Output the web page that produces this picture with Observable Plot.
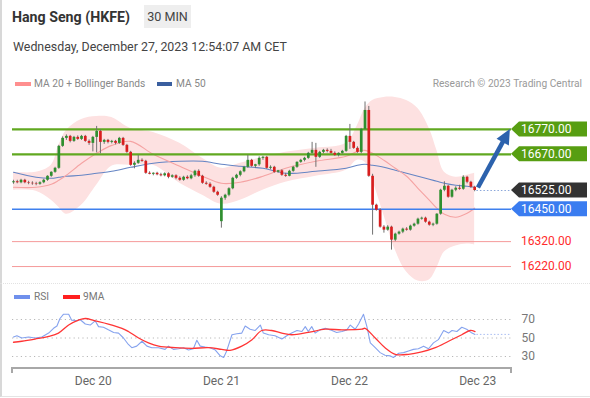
<!DOCTYPE html>
<html><head><meta charset="utf-8">
<script src="https://cdn.jsdelivr.net/npm/d3@7"></script>
<script src="https://cdn.jsdelivr.net/npm/@observablehq/plot@0.6"></script>
<style>
body{margin:0;background:#fff;font-family:Roboto,"Liberation Sans",Arial,sans-serif;}
#wrap{position:relative;width:590px;height:398px;overflow:hidden;background:#fff;}
#border{position:absolute;left:0;top:0;width:588px;height:396px;border-left:2px solid #d8d8d8;border-bottom:1px solid #e4e4e4;}
#title{position:absolute;left:12px;top:9px;font-size:14.2px;font-weight:700;color:#333;line-height:16px;}
#tf{position:absolute;left:144px;top:5px;width:47px;height:23px;line-height:23px;background:#eeeeee;color:#444;font-size:12.6px;text-align:center;}
#date{position:absolute;left:13px;top:39px;font-size:12.4px;color:#444;line-height:15px;}
.leg{position:absolute;font-size:10.2px;color:#888;line-height:12px;}
.sw{position:absolute;height:4px;}
#credit{position:absolute;right:8px;top:78px;font-size:10.2px;color:#999;line-height:12px;}
#sep{position:absolute;left:0;top:283px;width:590px;border-top:1px dotted #e2e2e2;}
#main{position:absolute;left:0;top:90px;}
#rsi{position:absolute;left:0;top:300px;}
svg{background:none!important;}
</style></head><body>
<div id="wrap">
<div id="border"></div>
<div id="title">Hang Seng (HKFE)</div>
<div id="tf">30 MIN</div>
<div id="date">Wednesday, December 27, 2023 12:54:07 AM CET</div>
<div class="sw" style="left:15px;top:82px;width:16px;background:#ff8f8f"></div>
<div class="leg" style="left:34px;top:78px">MA 20 + Bollinger Bands</div>
<div class="sw" style="left:157px;top:82px;width:15px;background:#3a5f9f"></div>
<div class="leg" style="left:176px;top:78px">MA 50</div>
<div id="credit">Research © 2023 Trading Central</div>
<div id="sep"></div>
<div id="main"></div>
<div class="sw" style="left:14px;top:295px;width:16px;background:#6f90ec"></div>
<div class="leg" style="left:34px;top:291px;color:#777">RSI</div>
<div class="sw" style="left:63px;top:295px;width:17px;background:#ff1f1f"></div>
<div class="leg" style="left:83px;top:291px;color:#777">9MA</div>
<div id="rsi"></div>
</div>
<script>
// ---- data ----
// 30-min candles [open, high, low, close]
const ohlc = [
[16556,16566,16550,16560],[16560,16566,16552,16556],[16556,16570,16552,16566],[16566,16570,16552,16556],
[16556,16562,16548,16554],[16554,16560,16546,16552],[16552,16558,16544,16550],[16550,16560,16546,16556],
[16556,16570,16552,16566],[16566,16584,16562,16582],[16582,16600,16578,16598],[16598,16618,16594,16614],
[16614,16706,16610,16702],[16702,16740,16698,16734],[16734,16748,16726,16742],[16742,16746,16716,16722],
[16722,16742,16718,16738],[16738,16744,16726,16730],[16730,16746,16726,16742],[16742,16746,16718,16722],
[16722,16728,16706,16714],[16714,16742,16680,16738],[16738,16782,16676,16762],[16762,16768,16672,16718],
[16718,16730,16710,16726],[16726,16730,16712,16718],[16718,16726,16712,16722],[16722,16726,16708,16714],
[16714,16738,16710,16734],[16734,16738,16702,16706],[16706,16710,16674,16678],[16678,16682,16622,16626],
[16626,16640,16612,16634],[16634,16666,16630,16646],[16646,16652,16638,16642],[16642,16646,16590,16594],
[16594,16600,16588,16590],[16590,16596,16584,16594],[16594,16598,16584,16588],[16588,16594,16580,16584],
[16584,16596,16580,16592],[16592,16596,16572,16578],[16578,16588,16574,16584],[16584,16588,16568,16574],
[16574,16580,16562,16566],[16566,16582,16562,16578],[16578,16584,16568,16572],[16572,16590,16568,16584],
[16584,16606,16578,16602],[16602,16608,16578,16582],[16582,16586,16550,16554],[16554,16560,16546,16550],
[16550,16556,16534,16538],[16538,16542,16514,16518],[16518,16522,16502,16506],[16400,16500,16374,16494],
[16494,16510,16486,16506],[16506,16536,16500,16532],[16532,16578,16528,16574],[16574,16590,16570,16586],
[16586,16604,16580,16600],[16600,16622,16596,16618],[16618,16666,16614,16646],[16646,16650,16618,16622],
[16622,16630,16614,16628],[16628,16660,16622,16654],[16654,16662,16646,16658],[16658,16662,16610,16614],
[16614,16624,16608,16618],[16618,16622,16594,16598],[16598,16606,16594,16604],[16604,16608,16582,16586],
[16586,16594,16578,16582],[16582,16606,16580,16602],[16602,16622,16598,16618],[16618,16640,16614,16638],
[16638,16650,16634,16646],[16646,16658,16640,16654],[16654,16678,16650,16674],[16674,16718,16670,16686],
[16686,16714,16618,16658],[16658,16682,16654,16678],[16678,16690,16672,16686],[16686,16692,16676,16682],
[16682,16690,16670,16674],[16674,16680,16662,16666],[16666,16676,16660,16674],[16674,16686,16670,16682],
[16682,16746,16678,16742],[16742,16790,16690,16718],[16718,16722,16690,16694],[16694,16700,16674,16678],
[16678,16774,16672,16770],[16770,16880,16766,16846],[16846,16862,16578,16582],[16582,16590,16346,16466],
[16466,16470,16442,16446],[16446,16452,16374,16378],[16378,16384,16354,16366],[16366,16384,16362,16378],
[16378,16382,16286,16326],[16326,16354,16320,16350],[16350,16362,16346,16358],[16358,16374,16352,16370],
[16370,16376,16362,16366],[16366,16386,16362,16382],[16382,16394,16378,16390],[16390,16414,16386,16410],
[16410,16418,16406,16414],[16414,16418,16394,16398],[16398,16402,16382,16386],[16386,16394,16380,16390],
[16390,16432,16386,16430],[16430,16530,16426,16526],[16526,16560,16520,16542],[16542,16546,16494,16498],
[16498,16530,16494,16526],[16526,16540,16520,16534],[16534,16546,16526,16530],[16530,16584,16526,16578],
[16578,16582,16552,16558],[16558,16562,16534,16538],[16538,16542,16520,16525]
];
// indicator samples (candle index)
const ind  = [0,6,10,12,14,18,22,26,31,37,44,50,55,60,66,72,80,88,91,93,95,98,101,104,107,110,112,114,117,120,122];
const bbUp = [16598,16598,16626,16706,16766,16810,16822,16818,16774,16758,16714,16654,16614,16634,16658,16678,16694,16714,16786,16854,16886,16898,16898,16886,16854,16774,16686,16598,16578,16586,16594];
const bbLo = [16526,16522,16486,16458,16430,16466,16546,16622,16626,16626,16554,16506,16470,16486,16526,16558,16582,16606,16646,16638,16566,16426,16286,16198,16162,16166,16214,16278,16302,16310,16306];
const ma20 = [16538,16538,16550,16566,16586,16634,16674,16706,16722,16670,16622,16582,16554,16558,16582,16614,16642,16662,16682,16686,16674,16646,16614,16582,16534,16486,16454,16430,16418,16434,16454];
const ma50 = [16598,16578,16574,16578,16582,16586,16594,16602,16618,16634,16642,16642,16630,16622,16614,16594,16602,16614,16626,16630,16626,16618,16606,16594,16582,16570,16562,16554,16546,16542,16538];
// levels
const resistLevels = [16770, 16670];
const supportLevel = 16450;
const lowLevels = [16320, 16220];
const lastPrice = 16525;
const targetPrice = 16770;
// RSI
const rsiI = [0,0.9,2.2,4,5.7,7.5,9.3,10.6,11.5,12.3,13.2,14.6,15.4,16.8,17.6,19,20.3,21.6,22.5,23.8,25.1,26.5,27.8,29.1,30.4,31.3,32.6,34,35.3,36.6,38.4,40.1,41,42.3,43.7,45,46.3,47.6,48.5,49.4,50.7,52,53.4,54.7,55.6,56.4,57.8,59.1,60.4,61.3,62.6,63.9,65.3,66.1,67.5,69.2,71,72.3,73.6,75,76.3,77.2,78,78.9,79.8,81.1,82.5,83.8,85.5,86.9,88.2,89.1,90.4,91.3,92.6,93.5,94.4,95.7,97,98.3,99.6,100.5,101.9,103.2,104.5,105.8,107.1,108.5,109.8,111.1,112.4,113.8,115.1,116,117.3,118.6,119.9,121.3,122.1];
const rsiV = [51,52.4,50,51,50,51,55.3,60.5,63,71.1,75.6,75.6,69.3,68.6,70,65.1,64,68.6,62.3,61.6,58.8,56,55.3,50,43,39.5,41.2,46.5,41.2,39.5,39.5,37.7,41.2,37.7,38.4,39.5,37,38.4,47.5,41.2,40.2,39.5,37,30.7,28.9,36,53.5,54.6,55.3,63,59.5,58.1,64,55.3,53.5,52.5,48.9,52.5,55.3,58.1,57,62.3,57,62.3,55.3,58.8,60.5,58.8,56,57,58.8,64,59.5,65.1,75.6,62.3,44.7,39.5,34.2,31.4,30.7,28.9,33.5,34.2,36,37.7,38.4,41.2,38.4,44.7,48.2,58.1,55.3,58.1,57,61.6,59.5,55.3,53.9];
const maI = [0,2.2,5.7,9.3,11.9,14.6,17.2,19,21.6,25.1,28.7,30.4,33.1,35.7,38.4,42.8,47.2,51.6,55.1,57.3,60.4,63.1,65.7,68.3,71,73.6,78,82.5,86.9,92.2,93,95.7,98.3,101,104.5,108,111.6,115.1,118.6,120.8,122.1];
const maV = [45.4,46.5,48.9,51.7,55.3,64,69.3,71.1,68.6,65.1,60.5,57,50,44.7,41.2,39.5,38.8,39.5,37.7,36.7,41.2,48.2,58.1,58.1,55.3,53.5,56,59.5,58.8,59.5,60.5,50,39.5,32.4,32.4,34.9,39.5,46.5,53.5,58.1,57];
const rsiLevels = [70, 50, 30];
const dayTicks = [21.1, 55, 88.9, 122.8];
const dayLabels = ["Dec 20", "Dec 21", "Dec 22", "Dec 23"];

// ---- build ----
const xDomain = [-0.26, 131.75];
const candles = ohlc.map((d, i) => ({i, o: d[0], h: d[1], l: d[2], c: d[3]}));
const ind20 = ind.map((i, k) => ({i, up: bbUp[k], lo: bbLo[k], m20: ma20[k], m50: ma50[k]}));
const lastIdx = candles.length - 1;
const GREEN = "#2f8f2f", RED = "#d81e1e";

const main = Plot.plot({
  width: 590, height: 200, marginLeft: 12, marginRight: 79, marginTop: 0, marginBottom: 0,
  style: {background: "none", fontFamily: "Roboto, sans-serif"},
  x: {domain: xDomain, axis: null},
  y: {domain: [16124, 16926], axis: null},
  color: {type: "identity"},
  marks: [
    Plot.areaY(ind20, {x: "i", y1: "lo", y2: "up", fill: "#fde1e1", curve: "catmull-rom"}),
    Plot.line(ind20, {x: "i", y: "m50", stroke: "#6585c4", strokeWidth: 1.1, curve: "catmull-rom"}),
    Plot.line(ind20, {x: "i", y: "m20", stroke: "#f5a3a3", strokeWidth: 1.1, curve: "catmull-rom"}),
    Plot.ruleY(lowLevels, {stroke: "#f59a9a", strokeWidth: 1}),
    Plot.ruleY([supportLevel], {stroke: "#3f80ee", strokeWidth: 1.5}),
    Plot.ruleY(resistLevels, {stroke: "#61a820", strokeWidth: 2.2}),
    Plot.ruleY([lastPrice], {x1: lastIdx + 0.6, x2: xDomain[1], stroke: "#8aa6da", strokeDasharray: "1.5,2"}),
    Plot.ruleX(candles, {x: "i", y1: "l", y2: "h", stroke: "#707070", strokeWidth: 1}),
    Plot.ruleX(candles, {x: "i", y1: "o", y2: "c", stroke: d => d.c >= d.o ? GREEN : RED, strokeWidth: 2.7})
  ]
});
document.getElementById("main").appendChild(main);

// badges and arrow drawn with the plot's scales
(function () {
  const xs = main.scale("x"), ys = main.scale("y");
  const svg = d3.select(main);
  const xr = xs.apply(xDomain[1]);
  const badges = [
    {v: resistLevels[0], fill: "#579e12"},
    {v: resistLevels[1], fill: "#579e12"},
    {v: lastPrice, fill: "#333333"},
    {v: supportLevel, fill: "#3a7cf0"},
    {v: lowLevels[0], fill: null},
    {v: lowLevels[1], fill: null}
  ];
  // arrow
  const x0 = xs.apply(lastIdx + 1), y0 = ys.apply(lastPrice + 10);
  const x1 = xs.apply(xDomain[1] - 0.3), y1 = ys.apply(targetPrice);
  const dx = x1 - x0, dy = y1 - y0, L = Math.hypot(dx, dy), ux = dx / L, uy = dy / L;
  const hl = 15, hw = 7;
  const bx = x1 - ux * hl, by = y1 - uy * hl;
  svg.append("line").attr("x1", x0).attr("y1", y0).attr("x2", bx + ux * 2).attr("y2", by + uy * 2)
    .attr("stroke", "#2c62ad").attr("stroke-width", 4.5);
  svg.append("path").attr("d", `M${x1},${y1}L${bx - uy * hw},${by + ux * hw}L${bx + uy * hw},${by - ux * hw}Z`)
    .attr("fill", "#2c62ad");
  badges.forEach(b => {
    const yc = ys.apply(b.v);
    if (b.fill) {
      svg.append("path")
        .attr("d", `M${xr},${yc}L${xr + 8},${yc - 7.5}L${xr + 76},${yc - 7.5}L${xr + 76},${yc + 7.5}L${xr + 8},${yc + 7.5}Z`)
        .attr("fill", b.fill);
    }
    svg.append("text").attr("x", xr + 10).attr("y", yc).attr("dy", "0.36em")
      .attr("text-anchor", "start")
      .attr("fill", b.fill ? "#fff" : "#ff2b2b").attr("font-size", 12).attr("font-family", "Roboto, sans-serif")
      .text(b.v.toFixed(2));
  });
})();

const rsiData = rsiI.map((i, k) => ({i, v: rsiV[k]}));
const maData = maI.map((i, k) => ({i, v: maV[k]}));
const tickLabel = new Map(dayTicks.map((t, k) => [t, dayLabels[k]]));

const rsi = Plot.plot({
  width: 590, height: 90, marginLeft: 12, marginRight: 79, marginTop: 0, marginBottom: 22,
  style: {background: "none", fontFamily: "Roboto, sans-serif", fontSize: "12px"},
  x: {domain: xDomain, label: null},
  y: {domain: [30, 70], range: [56, 19], axis: null},
  marks: [
    Plot.ruleY(rsiLevels, {stroke: "#b8b8b8", strokeDasharray: "1.2,3.2"}),
    Plot.ruleY([rsiV[rsiV.length - 1]], {x1: rsiI[rsiI.length - 1] + 0.5, x2: xDomain[1], stroke: "#a9bdf2", strokeDasharray: "1.5,2"}),
    Plot.line(rsiData, {x: "i", y: "v", stroke: "#86a3ee", strokeWidth: 1.1}),
    Plot.line(maData, {x: "i", y: "v", stroke: "#ff3535", strokeWidth: 1.3, curve: "catmull-rom"}),
    Plot.text(rsiLevels, {x: xDomain[1], y: d => d, text: d => String(d), dx: 10, textAnchor: "start", fill: "#777", fontSize: 12}),
    Plot.axisX({ticks: dayTicks, tickFormat: d => tickLabel.get(d), tickSize: 0, tickPadding: 8, color: "#666", fontSize: 12, label: null})
  ]
});
document.getElementById("rsi").appendChild(rsi);
(function () {
  const xs = rsi.scale("x");
  const svg = d3.select(rsi);
  const a = xs.apply(xDomain[0]), b = xs.apply(xDomain[1]), yb = 68;
  svg.append("path").attr("d", `M${a},${yb + 5}V${yb}H${b}V${yb + 5}`)
    .attr("fill", "none").attr("stroke", "#a8a8a8").attr("stroke-width", 2);
})();
</script>
</body></html>
